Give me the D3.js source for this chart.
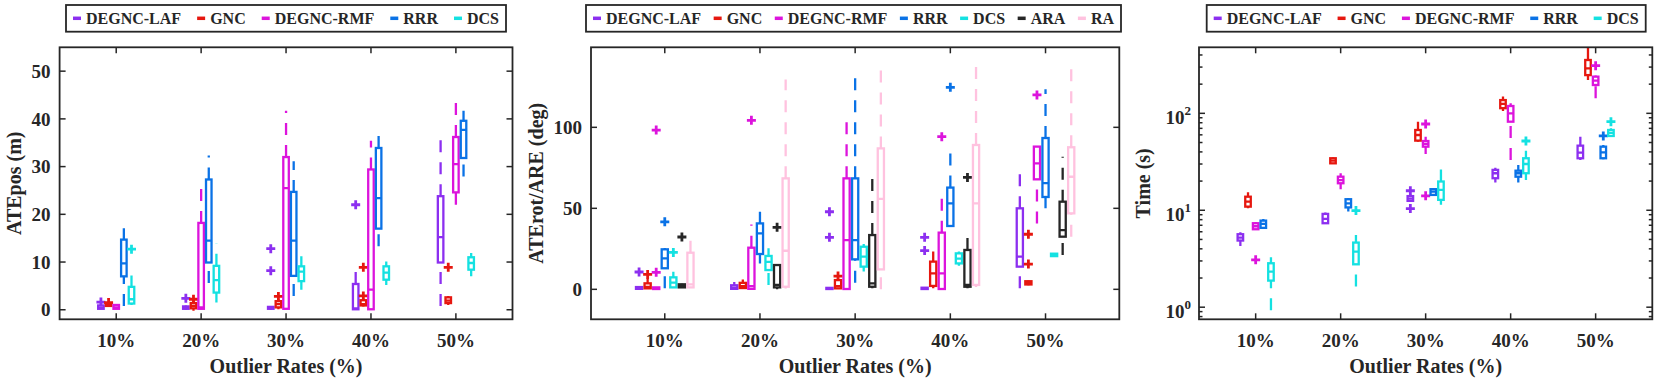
<!DOCTYPE html>
<html>
<head>
<meta charset="UTF-8" />
<title>Outlier rate boxplots</title>
<script src="https://d3js.org/d3.v7.min.js"></script>
<style>
  body { margin: 0; background: #fff; }
  svg text { font-family: "Liberation Serif", "Times New Roman", serif; font-weight: bold; fill: #262626; }
  .frame { fill: none; stroke: #262626; stroke-width: 1.8px; }
  .tick { stroke: #262626; stroke-width: 1.5px; }
  .whisker { fill: none; stroke-width: 2.3px; stroke-dasharray: 12,10; }
  .box { fill: none; stroke-width: 2.3px; }
  .med { stroke-width: 2.3px; }
  .out { fill: none; stroke-width: 2.8px; }
</style>
</head>
<body>
<script>
var rates = ["10%", "20%", "30%", "40%", "50%"];

// colours of the methods
var colLaf = "#8c2ff0", colGnc = "#e6170f", colRmf = "#dc14dc", colRrr = "#0a72e6",
    colDcs = "#14e1e1", colAra = "#262626", colRa = "#ffc2df";

// each box: [lower whisker, q1, median, q3, upper whisker]; *Out = outliers per rate
// ---- ATEpos (m)
var posLaf = [[0.1,0.2,0.4,0.9,1.1],[0,0.2,0.4,0.7,0.9],[0,0.2,0.4,0.6,0.8],[0,0.1,0.3,5.4,9.4],[0.8,9.9,15.2,23.8,37.0]];
var posLafOut = [[1.6],[2.4],[8.2,12.8],[22.0],[]];
var posGnc = [[0.6,0.8,1.0,1.2,1.3],[-0.2,0.3,0.8,1.4,1.8],[0.1,0.5,1.2,1.8,2.2],[0.7,0.9,1.2,2.0,2.3],[1.0,1.4,1.9,2.6,2.9]];
var posGncOut = [[1.5],[2.2],[2.8],[2.9,8.9],[8.9]];
var posRmf = [[0.1,0.2,0.5,1.0,1.2],[0.1,0.2,0.5,18.2,25.5],[0.1,0.2,25.5,32.0,41.7],[0,0.1,4.2,29.4,35.4],[22.0,24.6,30.5,36.2,44.9]];
var posRmfOut = [[],[],[],[],[]];
var posRrr = [[0.8,7.0,9.7,14.7,17.1],[5.6,9.9,14.5,27.3,32.3],[2.9,7.1,14.5,24.7,31.1],[13.3,17.0,23.4,33.9,37.7],[27.9,31.8,37.7,39.6,41.7]];
var posRrrOut = [[],[],[],[],[]];
var posDcs = [[1.0,1.3,2.2,4.8,7.2],[1.5,3.6,6.2,9.2,13.9],[4.2,6.0,8.0,9.1,11.2],[5.2,6.3,7.8,9.1,10.1],[7.0,8.4,9.8,11.0,11.9]];
var posDcsOut = [[12.7],[],[],[],[]];

// ---- ATErot/ARE (deg)
var rotLaf = [[0.1,0.3,0.6,1.4,2.0],[0.1,0.3,1.0,2.5,4.5],[0,0.2,0.5,0.9,1.2],[0,0.2,0.5,1.0,1.3],[0.6,14.0,20.2,50.0,76.1]];
var rotLafOut = [[10.7],[],[32.1,47.9],[23.9,32.1],[]];
var rotGnc = [[0.3,0.6,1.5,3.7,6.5],[0.3,0.8,2.0,4.0,6.0],[0.3,0.6,2.0,5.7,6.5],[0.6,2.1,9.9,17.1,23.3],[2.5,3.0,4.0,5.0,5.5]];
var rotGncOut = [[9.2],[],[8.2],[],[15.6,34.0]];
var rotRmf = [[0.1,0.2,0.5,1.2,1.5],[0,0.3,2.0,25.7,40.0],[0,0.2,30.4,68.5,104.0],[0,0.2,9.9,35.0,60.3],[40.7,67.9,77.8,88.1,88.5]];
var rotRmfOut = [[10.5,98.3],[104.3],[],[94.2],[120.0]];
var rotRrr = [[0.6,13.0,19.1,24.7,25.5],[16.0,21.8,34.6,40.7,47.9],[4.0,18.5,30.4,68.5,132.3],[38.7,39.1,53.1,62.8,85.0],[50.0,57.0,65.5,93.4,123.5]];
var rotRrrOut = [[41.7],[],[],[124.7],[]];
var rotDcs = [[0.8,1.2,4.1,7.4,10.9],[2.7,11.9,17.0,20.6,25.3],[11.0,14.0,20.2,26.3,28.0],[14.5,16.0,19.0,22.2,23.3],[20.0,20.5,21.2,22.0,22.5]];
var rotDcsOut = [[22.8],[],[],[],[]];
var rotAra = [[0.8,1.2,2.0,3.1,3.5],[0,1.2,2.7,15.0,15.5],[0.6,1.6,3.7,33.5,69.5],[0.6,1.6,2.7,24.3,32.5],[21.2,32.5,36.6,54.1,81.9]];
var rotAraOut = [[32.3],[38.3],[],[69.1],[]];
var rotRa = [[1.0,1.2,3.0,22.6,32.5],[0.5,1.6,23.8,68.5,129.6],[0,12.3,55.8,87.0,138.5],[1.5,2.7,53.1,89.1,142.6],[32.5,46.9,69.5,87.7,137.4]];
var rotRaOut = [[],[],[],[],[]];

// ---- Time (s)
var timeLaf = [[4.29,4.87,5.23,5.66,5.93],[7.23,7.35,8.14,9.17,9.46],[12.3,12.5,13.2,14.0,14.5],[19.3,21.4,24.1,26.1,27.5],[33.0,34.4,39.3,46.4,57.4]];
var timeLafOut = [[],[],[10.4,15.9],[],[]];
var timeGnc = [[10.5,10.9,12.3,13.8,15.3],[30.0,30.5,32.5,34.4,35.0],[51.0,52.3,59.8,67.3,82.0],[106,113,125,137,149],[221,248,291,355,520]];
var timeGncOut = [[],[],[],[],[]];
var timeRmf = [[6.3,6.37,6.84,7.35,7.5],[16.5,19.0,20.5,22.2,24.1],[38.1,45.3,48.3,51.8,57.4],[33,82,100,119,127],[143,196,217,239,245]];
var timeRmfOut = [[3.08],[],[14.1,77.6],[],[310]];
var timeRrr = [[6.5,6.58,7.23,7.82,8.14],[9.7,10.7,11.8,13.0,13.3],[14.2,14.4,15.6,16.5,16.8],[19.3,22.2,24.1,25.6,29.3],[33.5,34.4,39.6,45.3,47.0]];
var timeRrrOut = [[],[],[],[],[58.4]];
var timeDcs = [[0.55,1.88,2.33,2.84,3.28],[1.63,2.77,3.75,4.64,5.57],[11.4,12.8,16.2,19.8,29.3],[20.5,24.1,30.0,34.4,41.2],[57,58.4,63,67.3,70]];
var timeDcsOut = [[],[9.93],[],[51.8],[82]];

var width = 1660, height = 381;
var plotTop = 47.3, plotBottom = 319.3;

var panels = [
  { x0: 59.6, x1: 512.5, xdom: [1/3, 17/3], ydom: [-2, 55], log: false,
    yticks: [0, 10, 20, 30, 40, 50], ylabel: "ATEpos (m)", ylabelX: 21, legend: [66, 506],
    series: [["DEGNC-LAF", colLaf, posLaf, posLafOut], ["GNC", colGnc, posGnc, posGncOut],
             ["DEGNC-RMF", colRmf, posRmf, posRmfOut], ["RRR", colRrr, posRrr, posRrrOut],
             ["DCS", colDcs, posDcs, posDcsOut]] },
  { x0: 591, x1: 1119.3, xdom: [0.225, 5.775], ydom: [-18.5, 149.4], log: false,
    yticks: [0, 50, 100], ylabel: "ATErot/ARE (deg)", ylabelX: 543, legend: [586, 1121],
    series: [["DEGNC-LAF", colLaf, rotLaf, rotLafOut], ["GNC", colGnc, rotGnc, rotGncOut],
             ["DEGNC-RMF", colRmf, rotRmf, rotRmfOut], ["RRR", colRrr, rotRrr, rotRrrOut],
             ["DCS", colDcs, rotDcs, rotDcsOut], ["ARA", colAra, rotAra, rotAraOut],
             ["RA", colRa, rotRa, rotRaOut]] },
  { x0: 1199, x1: 1652.3, xdom: [1/3, 17/3], ydom: [0.75, 480], log: true,
    yticks: [1, 10, 100], ylabel: "Time (s)", ylabelX: 1150, legend: [1206.7, 1645.7],
    series: [["DEGNC-LAF", colLaf, timeLaf, timeLafOut], ["GNC", colGnc, timeGnc, timeGncOut],
             ["DEGNC-RMF", colRmf, timeRmf, timeRmfOut], ["RRR", colRrr, timeRrr, timeRrrOut],
             ["DCS", colDcs, timeDcs, timeDcsOut]] }
];

var svg = d3.select("body").append("svg")
    .attr("width", width)
    .attr("height", height);

var boxW = 0.065, step = 0.09;

panels.forEach(function(p, pi) {
  var x = d3.scaleLinear().domain(p.xdom).range([p.x0, p.x1]);
  var y = (p.log ? d3.scaleLog() : d3.scaleLinear()).domain(p.ydom).range([plotBottom, plotTop]);

  svg.append("clipPath").attr("id", "clip" + pi)
    .append("rect").attr("x", p.x0).attr("y", plotTop).attr("width", p.x1 - p.x0).attr("height", plotBottom - plotTop);

  var g = svg.append("g").attr("clip-path", "url(#clip" + pi + ")");
  var n = p.series.length;
  var hw = (x(boxW) - x(0)) / 2;

  p.series.forEach(function(s, si) {
    var col = s[1];
    s[2].forEach(function(b, gi) {
      var cx = x(gi + 1 + (si - (n - 1) / 2) * step);
      // lower whisker runs from the adjacent value up to q1, upper from q3 up
      if (b[0] < b[1]) g.append("line").attr("class", "whisker").attr("stroke", col)
        .attr("x1", cx).attr("x2", cx).attr("y1", y(b[0])).attr("y2", y(b[1]));
      if (b[4] > b[3]) g.append("line").attr("class", "whisker").attr("stroke", col)
        .attr("x1", cx).attr("x2", cx).attr("y1", y(b[3])).attr("y2", y(b[4]));
      g.append("rect").attr("class", "box").attr("stroke", col)
        .attr("x", cx - hw).attr("width", 2 * hw)
        .attr("y", y(b[3])).attr("height", Math.max(0.5, y(b[1]) - y(b[3])));
      g.append("line").attr("class", "med").attr("stroke", col)
        .attr("x1", cx - hw).attr("x2", cx + hw).attr("y1", y(b[2])).attr("y2", y(b[2]));
      s[3][gi].forEach(function(o) {
        var oy = y(o);
        g.append("path").attr("class", "out").attr("stroke", col)
          .attr("d", "M" + (cx - 4.5) + "," + oy + "H" + (cx + 4.5) + "M" + cx + "," + (oy - 4.5) + "V" + (oy + 4.5));
      });
    });
  });

  // frame and inward ticks on all four sides
  svg.append("rect").attr("class", "frame")
    .attr("x", p.x0).attr("y", plotTop).attr("width", p.x1 - p.x0).attr("height", plotBottom - plotTop);

  rates.forEach(function(r, i) {
    var tx = x(i + 1);
    svg.append("line").attr("class", "tick").attr("x1", tx).attr("x2", tx).attr("y1", plotBottom).attr("y2", plotBottom - 6);
    svg.append("line").attr("class", "tick").attr("x1", tx).attr("x2", tx).attr("y1", plotTop).attr("y2", plotTop + 6);
    svg.append("text").attr("x", tx).attr("y", 347).attr("text-anchor", "middle")
      .style("font-size", "19px").text(r);
  });

  if (p.log) {
    var minor = [];
    [0.1, 1, 10, 100].forEach(function(d) {
      for (var k = 2; k <= 9; k++) {
        var v = d * k;
        if (v >= p.ydom[0] && v <= p.ydom[1]) minor.push(v);
      }
    });
    minor.forEach(function(v) {
      svg.append("line").attr("class", "tick").attr("x1", p.x0).attr("x2", p.x0 + 3.5).attr("y1", y(v)).attr("y2", y(v));
      svg.append("line").attr("class", "tick").attr("x1", p.x1).attr("x2", p.x1 - 3.5).attr("y1", y(v)).attr("y2", y(v));
    });
  }

  p.yticks.forEach(function(v) {
    var ty = y(v);
    svg.append("line").attr("class", "tick").attr("x1", p.x0).attr("x2", p.x0 + 6).attr("y1", ty).attr("y2", ty);
    svg.append("line").attr("class", "tick").attr("x1", p.x1).attr("x2", p.x1 - 6).attr("y1", ty).attr("y2", ty);
    if (p.log) {
      var t = svg.append("text").attr("x", p.x0 - 8).attr("y", ty + 10.5).attr("text-anchor", "end")
        .style("font-size", "19px");
      t.append("tspan").text("10");
      t.append("tspan").attr("dy", -9).style("font-size", "13px").text(String(Math.round(Math.log10(v))));
    } else {
      svg.append("text").attr("x", p.x0 - 9).attr("y", ty).attr("dy", "0.35em").attr("text-anchor", "end")
        .style("font-size", "19px").text(v);
    }
  });

  svg.append("text").attr("x", (p.x0 + p.x1) / 2).attr("y", 373).attr("text-anchor", "middle")
    .style("font-size", "20px").text("Outlier Rates (%)");

  svg.append("text")
    .attr("transform", "translate(" + p.ylabelX + "," + ((plotTop + plotBottom) / 2) + ")rotate(-90)")
    .attr("text-anchor", "middle").style("font-size", "20px").text(p.ylabel);

  // legend box across the top
  var lg = svg.append("g");
  lg.append("rect").attr("x", p.legend[0]).attr("y", 5).attr("width", p.legend[1] - p.legend[0]).attr("height", 26.7)
    .attr("fill", "#fff").attr("stroke", "#262626").attr("stroke-width", 1.8);
  var items = p.series.map(function(s) {
    var t = lg.append("text").attr("y", 23.8).style("font-size", "16px").text(s[0]);
    return { t: t, w: t.node().getComputedTextLength(), col: s[1] };
  });
  var tok = 8, gap = 5, pad = 7;
  var used = d3.sum(items, function(d) { return tok + gap + d.w; });
  var space = (p.legend[1] - p.legend[0] - 2 * pad - used) / (items.length - 1);
  var cx = p.legend[0] + pad;
  items.forEach(function(d) {
    lg.append("line").attr("x1", cx).attr("x2", cx + tok).attr("y1", 18.3).attr("y2", 18.3)
      .attr("stroke", d.col).attr("stroke-width", 3.5);
    d.t.attr("x", cx + tok + gap);
    cx += tok + gap + d.w + space;
  });
});
</script>
</body>
</html>
